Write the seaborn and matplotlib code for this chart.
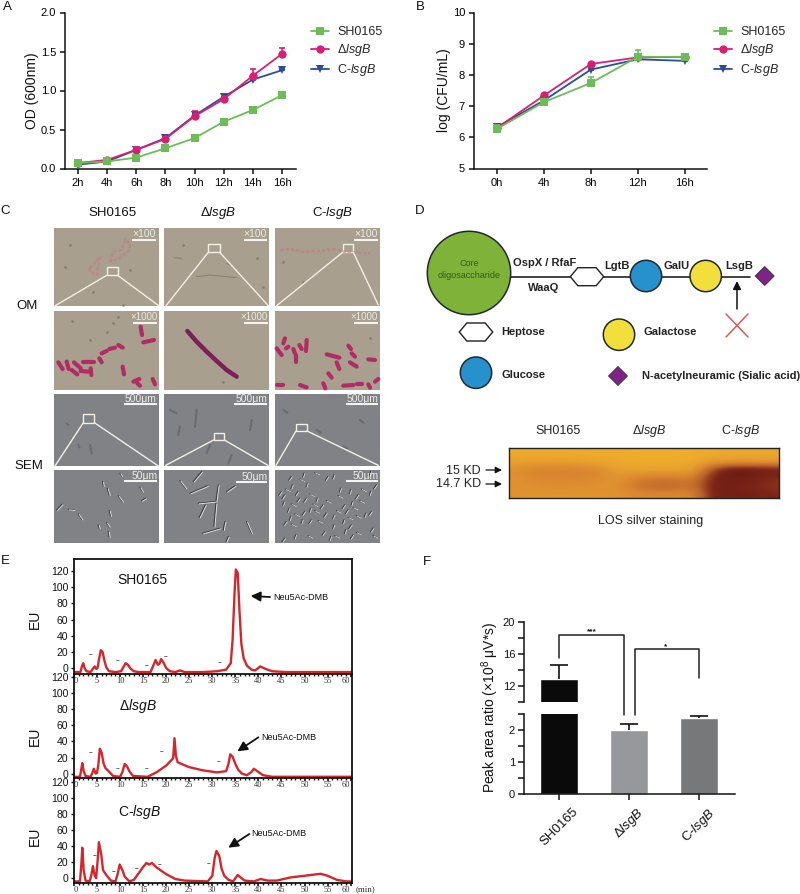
import matplotlib
matplotlib.use("Agg")
import matplotlib.pyplot as plt
import numpy as np
import pandas as pd
import seaborn as sns
from matplotlib.colors import LinearSegmentedColormap
from matplotlib.patches import Circle, Polygon, Rectangle

W, H = 800, 894

strains = ["SH0165", "dlsgB", "ClsgB"]
strain_labels = ["SH0165", r"Δ$\mathit{lsgB}$", r"C-$\mathit{lsgB}$"]
strain_colors = ["#6CBD57", "#D91F71", "#2B4C9B"]
strain_markers = ["s", "o", "v"]

# panel A
od_hours = ["2h", "4h", "6h", "8h", "10h", "12h", "14h", "16h"]
od_sh = [0.07, 0.09, 0.14, 0.26, 0.39, 0.60, 0.75, 0.94]
od_dl = [0.07, 0.11, 0.24, 0.38, 0.67, 0.89, 1.19, 1.47]
od_cl = [0.05, 0.09, 0.24, 0.39, 0.68, 0.92, 1.14, 1.26]
od_sh_err = [0.01, 0.01, 0.01, 0.01, 0.02, 0.02, 0.02, 0.02]
od_dl_err = [0.01, 0.02, 0.04, 0.03, 0.07, 0.03, 0.09, 0.08]
od_cl_err = [0.01, 0.01, 0.02, 0.02, 0.03, 0.03, 0.02, 0.01]

# panel B
cfu_hours = [0, 4, 8, 12, 16]
cfu_sh = [6.27, 7.13, 7.74, 8.58, 8.58]
cfu_dl = [6.30, 7.34, 8.35, 8.56, 8.58]
cfu_cl = [6.33, 7.18, 8.17, 8.50, 8.45]
cfu_sh_err = [0.12, 0.10, 0.20, 0.22, 0.04]
cfu_dl_err = [0.05, 0.05, 0.04, 0.08, 0.03]
cfu_cl_err = [0.05, 0.05, 0.04, 0.06, 0.03]

# panel E
hplc_sh_t = [0, 1.4, 1.7, 2, 2.3, 2.7, 3.6, 4.2, 4.5, 4.8, 5.1, 5.4, 5.8, 6.2, 6.6, 7, 7.6, 9, 10.2, 10.7, 11.2,
             11.7, 12.3, 13, 14, 16.6, 17.2, 17.7, 18.2, 18.5, 18.9, 19.4, 20, 20.8, 22, 23, 24, 28, 31, 33, 34,
             34.4, 34.8, 35.1, 35.5, 35.9, 36.3, 36.8, 37.5, 38.5, 39.3, 40.4, 41.5, 43, 46, 60.3]
hplc_sh_y = [-5, -5, 2, 6, 0, -4, -5, 0, 2, -1, 0, 10, 22, 20, 9, 1, -4, -5, -4, 1, 6,
             4, -1, -4, -5, -5, 3, 10, 4, 5, 11, 7, 0, -4, -5, -3, -5, -5, -4, -2, 6,
             35, 90, 122, 118, 70, 30, 12, 3, -2, -3, 2, -1, -4, -5, -5]
hplc_dl_t = [0, 1.3, 1.6, 1.8, 2.1, 2.5, 3.6, 4, 4.3, 4.7, 5, 5.3, 5.6, 6, 6.4, 6.8, 7.5, 8.5, 10, 10.5, 11, 11.5,
             12, 12.8, 16, 18, 20, 21, 21.5, 21.8, 22.1, 22.5, 25, 28, 31, 33, 33.5, 33.9, 34.4, 35, 35.6, 36.4, 37.5,
             38.5, 39, 40, 41, 43, 60.3]
hplc_dl_y = [-4, -4, 6, 13, 3, -3, -4, 1, 6, 0, 1, 12, 31, 26, 13, 7, 3, -3, -4, 2, 12, 9,
             3, -3, -4, 2, 10, 16, 19, 44, 22, 14, 8, 4, 1.5, 3, 12, 24, 21, 12, 5, 0, -2,
             2, 6, 2, -2, -4, -4]
hplc_cl_t = [0, 1.3, 1.6, 1.8, 2.1, 2.5, 3.4, 3.8, 4.1, 4.5, 4.8, 5.1, 5.4, 5.9, 6.3, 7, 8, 9, 9.5, 9.9, 10.5, 11, 12,
             13, 15, 15.7, 16.3, 16.9, 18, 20, 22, 24, 29, 30, 30.5, 30.9, 31.5, 32, 32.6, 33.5, 34.5, 35.5, 37, 39,
             40.5, 42, 44, 47, 50, 53.5, 55, 57, 59, 60.3]
hplc_cl_y = [-4, -4, 18, 38, 10, -3, -4, 5, 15, 3, 0, 20, 45, 30, 10, 4, -3, -4, 6, 17, 10, 2, -4,
             -2, 14, 19, 17, 19, 13, 5, -1, -3, -4, 3, 25, 34, 28, 12, 3, -2, -4, 4, -3, -4,
             -1, -3, -3, 1, 3, 5.5, 3, -2, -4, -4]
hplc_ticks = list(range(0, 61, 5))
eu_ticks = [0, 20, 40, 60, 80, 100, 120]

# panel F
peak_strains = ["SH0165", "dlsgB", "ClsgB"]
peak_values = [12.8, 2.0, 2.37]
peak_errors = [1.75, 0.18, 0.07]
peak_colors = ["#0A0A0A", "#96989C", "#76787B"]

# panel D gel intensity, lanes left to right, top to bottom
gel_rows = [
    [.08, .08, .08, .08, .08, .08, .06, .06, .06, .06, .10, .12, .12, .12],
    [.18, .18, .18, .15, .13, .10, .08, .08, .08, .10, .18, .18, .18, .18],
    [.32, .42, .42, .42, .38, .22, .15, .15, .15, .18, .70, .92, .92, .88],
    [.32, .40, .40, .40, .38, .27, .38, .45, .45, .40, .82, .88, .85, .78],
    [.30, .33, .33, .33, .32, .30, .50, .58, .58, .50, .85, .85, .82, .75],
    [.30, .30, .30, .30, .30, .30, .36, .38, .38, .36, .85, .85, .85, .80],
]

sns.set_theme(style="ticks")
plt.rcParams["font.family"] = ["Liberation Sans", "DejaVu Sans"]
plt.rcParams["mathtext.fontset"] = "custom"
plt.rcParams["mathtext.rm"] = "Liberation Sans"
plt.rcParams["mathtext.it"] = "Liberation Sans:italic"
plt.rcParams["mathtext.default"] = "regular"

fig = plt.figure(figsize=(W / 100, H / 100), dpi=100)


def px_axes(x0, y0, x1, y1, **kw):
    return fig.add_axes([x0 / W, 1 - y1 / H, (x1 - x0) / W, (y1 - y0) / H], **kw)


def growth_panel(box, x_vals, series, errs, ylabel, legend_xy):
    ax = px_axes(*box)
    frame = pd.DataFrame({
        "x": list(x_vals) * 3,
        "y": sum(series, []),
        "strain": sum([[s] * len(x_vals) for s in strains], []),
    })
    sns.lineplot(data=frame, x="x", y="y", hue="strain", style="strain", hue_order=strains, style_order=strains,
                 palette=dict(zip(strains, strain_colors)), markers=dict(zip(strains, strain_markers)),
                 dashes=False, errorbar=None, linewidth=1.3, markersize=6, markeredgewidth=0, ax=ax)
    # blue under pink under green, like the original
    for line, z in zip(ax.lines[:3], [5, 4, 3]):
        line.set_zorder(z)
    for vals, err, col, z in zip(series, errs, strain_colors, [5, 4, 3]):
        ax.errorbar(x_vals, vals, yerr=[np.zeros(len(err)), err], fmt="none", ecolor=col,
                    elinewidth=1.2, capsize=2.5, capthick=1.2, zorder=z)
    handles, _ = ax.get_legend_handles_labels()
    ax.legend(handles[-3:], strain_labels, loc="upper left", frameon=False, fontsize=9,
              bbox_to_anchor=(legend_xy[0] / W, 1 - legend_xy[1] / H), bbox_transform=fig.transFigure,
              borderpad=0, borderaxespad=0, handlelength=1.4, handletextpad=0.7, labelspacing=0.33)
    ax.set_xlabel("")
    ax.set_ylabel(ylabel, fontsize=10, color="#111111", labelpad=1)
    sns.despine(ax=ax)
    for side in ["left", "bottom"]:
        ax.spines[side].set_linewidth(1.1)
        ax.spines[side].set_color("#111111")
    ax.tick_params(labelsize=8, width=1.1, length=3.5, color="#111111", labelcolor="#000000", pad=3)
    return ax


# A
ax_a = growth_panel((65, 12.5, 296, 168.5), range(len(od_hours)), [od_sh, od_dl, od_cl],
                    [od_sh_err, od_dl_err, od_cl_err], "OD (600nm)", (311, 26))
ax_a.set_xlim(-0.45, 7.48)
ax_a.set_ylim(0, 2)
ax_a.set_xticks(range(len(od_hours)), od_hours)
ax_a.set_yticks([0, 0.5, 1, 1.5, 2], ["0.0", "0.5", "1.0", "1.5", "2.0"])

# B
ax_b = growth_panel((474, 12.5, 707, 168.5), cfu_hours, [cfu_sh, cfu_dl, cfu_cl],
                    [cfu_sh_err, cfu_dl_err, cfu_cl_err], "log (CFU/mL)", (714, 26))
ax_b.set_xlim(-1.96, 17.9)
ax_b.set_ylim(5, 10)
ax_b.set_xticks(cfu_hours, [f"{h}h" for h in cfu_hours])
ax_b.set_yticks([5, 6, 7, 8, 9, 10])


# E
def hplc_panel(box, t, y, ylim, top_spine):
    ax = px_axes(*box, facecolor="none")
    sns.lineplot(x=t, y=y, sort=False, estimator=None, color="#D5262C", linewidth=1.7, ax=ax)
    ax.set_xlim(0, 60.3)
    ax.set_ylim(*ylim)
    ax.set_xticks(hplc_ticks)
    labels = ax.set_xticklabels(hplc_ticks, family="Liberation Serif", fontsize=6, color="#333333")
    labels[0].set_ha("left")
    labels[-1].set_ha("right")
    ax.set_xticks(range(0, 61), minor=True)
    ax.set_yticks(eu_ticks)
    ax.tick_params(axis="x", which="major", length=2, width=1.2, pad=0.5, color="#111111")
    ax.tick_params(axis="x", which="minor", length=1.5, width=1.0, color="#111111")
    ax.tick_params(axis="y", which="major", length=2.5, width=1, pad=1.5, labelsize=7.5, color="#111111",
                   labelcolor="#111111")
    for spine in ax.spines.values():
        spine.set_linewidth(1.3)
        spine.set_color("#111111")
    ax.spines["top"].set_visible(top_spine)
    return ax


ax_e1 = hplc_panel((74, 559, 352, 674), hplc_sh_t, hplc_sh_y, (-7.4, 135), True)
ax_e2 = hplc_panel((74, 674, 352, 778), hplc_dl_t, hplc_dl_y, (-5.5, 124), False)
ax_e3 = hplc_panel((74, 778, 352, 883), hplc_cl_t, hplc_cl_y, (-6, 125), False)


# F
def peak_panel(box, ylim):
    ax = px_axes(*box, facecolor="none")
    frame = pd.DataFrame({"strain": peak_strains, "value": peak_values})
    sns.barplot(data=frame, x="strain", y="value", hue="strain", palette=dict(zip(peak_strains, peak_colors)),
                width=0.54, legend=False, errorbar=None, ax=ax)
    tops = np.array(peak_values) + np.array(peak_errors)
    ax.vlines(range(3), peak_values, tops, color="#111111", lw=1.2, zorder=5)
    ax.hlines(tops, np.arange(3) - 0.13, np.arange(3) + 0.13, color="#111111", lw=1.2, zorder=5)
    ax.set_xlim(-0.507, 2.51)
    ax.set_ylim(*ylim)
    ax.set_xlabel("")
    ax.set_ylabel("")
    sns.despine(ax=ax)
    ax.spines["left"].set_linewidth(1.1)
    ax.spines["left"].set_color("#111111")
    ax.tick_params(axis="y", width=1.1, length=4, labelsize=8, pad=2, color="#111111", labelcolor="#111111")
    return ax


ax_f_top = peak_panel((523.5, 622, 735, 701.7), (10, 20))
ax_f_top.spines["bottom"].set_visible(False)
ax_f_top.set_xticks([])
ax_f_top.set_yticks([10, 12, 14, 16, 18, 20], ["", "12", "", "16", "", "20"])

ax_f_low = peak_panel((523.5, 714, 735, 794.3), (0, 2.5))
ax_f_low.set_yticks([0, 0.5, 1, 1.5, 2, 2.5], ["0", "", "1", "", "2", ""])
ax_f_low.set_xticks(range(3), strain_labels, rotation=45, ha="center", fontsize=9.5, color="#111111")
ax_f_low.spines["bottom"].set_linewidth(1.1)
ax_f_low.spines["bottom"].set_color("#111111")
ax_f_low.tick_params(axis="x", width=1.1, length=4, pad=4, color="#111111")

# D gel
ax_gel = px_axes(508.7, 448.3, 778.7, 497.7)
gel_cmap = LinearSegmentedColormap.from_list(
    "gel", ["#F2B32A", "#E8A02E", "#D98530", "#B9622A", "#7E2518", "#5A1210"])
ax_gel.imshow(np.array(gel_rows), cmap=gel_cmap, vmin=0, vmax=1, aspect="auto", interpolation="bicubic")
ax_gel.set_xticks([])
ax_gel.set_yticks([])
for spine in ax_gel.spines.values():
    spine.set_linewidth(1)
    spine.set_color("#222222")

# everything else is placed in pixel coordinates on a transparent overlay
ov = fig.add_axes([0, 0, 1, 1], facecolor="none")
ov.set_xlim(0, W)
ov.set_ylim(H, 0)
ov.axis("off")


def label(x, y, s, size=9, ha="center", weight="normal", color="#111111", rot=0, **kw):
    ov.text(x, y, s, fontsize=size, ha=ha, va="center", fontweight=weight, color=color, rotation=rot, **kw)


def arrow(x0, y0, x1, y1, lw=1.0, head=6):
    ov.annotate("", xy=(x1, y1), xytext=(x0, y0),
                arrowprops=dict(arrowstyle=f"-|>,head_width={head * 0.04},head_length={head * 0.08}", lw=lw,
                                color="#111111", shrinkA=0, shrinkB=0))


for x, y, s in [(7, 7, "A"), (420, 7, "B"), (5, 211, "C"), (420, 211, "D"), (5, 561, "E"), (427, 562, "F")]:
    label(x, y, s, size=9.5)

# C photographs
z9 = lambda x, y: (50 + x / 3, 225 + y / 3)
z8 = lambda x, y: (50 + x / 3, 390 + y / 3)
col_edges = [(54, 159), (164, 269), (275, 380)]
row_edges = [(228, 306), (311, 390), (394, 466), (470, 543)]
om_bg = "#A89F8E"
sem_bg = "#808286"

for c, (x0, x1) in enumerate(col_edges):
    for r, (y0, y1) in enumerate(row_edges):
        ov.add_patch(Rectangle((x0, y0), x1 - x0, y1 - y0, color=om_bg if r < 2 else sem_bg, lw=0))

label(112, 213, "SH0165", size=9.5)
label(218, 213, strain_labels[1], size=9.5)
label(333, 213, strain_labels[2], size=9.5)
label(27, 306, "OM", size=9.5)
label(29, 466, "SEM", size=9.5)


def zoom_box(conv, box, left, right):
    bx0, by0, bx1, by1 = box
    p = [conv(bx0, by0), conv(bx1, by0), conv(bx1, by1), conv(bx0, by1)]
    ov.add_patch(Polygon(p, closed=True, fill=False, ec="#F4F0E6", lw=1))
    ov.plot(*zip(conv(bx0, by1), conv(*left)), color="#F4F0E6", lw=1)
    ov.plot(*zip(conv(bx1, by1), conv(*right)), color="#F4F0E6", lw=1)


def scale(conv, x0, x1, y, s, text_y, size=7.5):
    ov.plot(*zip(conv(x0, y), conv(x1, y)), color="#F5F5F0", lw=1.5, solid_capstyle="butt")
    tx, ty = conv(x1, text_y)
    ov.text(tx, ty, s, fontsize=size, ha="right", va="center", color="#ECECE6")


# smears at x100
om_smears = [
    [(118, 130), (130, 118), (150, 95), (140, 150), (120, 140), (118, 130)],
    [(180, 110), (190, 80), (215, 75), (225, 45), (240, 55), (238, 75), (210, 100), (180, 110)],
    [(690, 75), (720, 72), (760, 80), (810, 78), (850, 72), (880, 80), (960, 85)],
]
for smear in om_smears:
    ov.plot(*zip(*[z9(*p) for p in smear]), color="#BE7D84", lw=1.8, alpha=0.6, ls=(0, (1.5, 0.6)))
for seg in [[(440, 155), (480, 150), (560, 158)], [(372, 98), (395, 100)], [(530, 115), (540, 120)]]:
    ov.plot(*zip(*[z9(*p) for p in seg]), color="#7D6F66", lw=0.7, alpha=0.7)

om_specks = [(60, 60), (45, 125), (130, 200), (240, 135), (220, 240), (620, 100), (640, 185), (400, 60), (700, 110),
             (760, 170), (65, 288), (190, 295), (170, 320), (205, 275), (120, 345), (520, 470), (960, 340)]
ov.scatter(*zip(*[z9(*p) for p in om_specks]), s=4, color="#6F6A62", alpha=0.6, lw=0)

zoom_box(z9, (170, 126, 203, 151), (16, 242), (326, 242))
zoom_box(z9, (475, 57, 509, 82), (348, 242), (655, 242))
zoom_box(z9, (878, 57, 910, 82), (680, 242), (985, 240))
for x0, x1 in [(247, 318), (581, 651), (912, 984)]:
    scale(z9, x0, x1, 44, "×100", 27)
for x0, x1 in [(248, 322), (581, 653), (912, 984)]:
    scale(z9, x0, x1, 295, "×1000", 276, size=7)

om_rods = [
    (25, 412, 38, 432), (50, 410, 56, 432), (72, 412, 92, 430), (65, 435, 82, 448), (92, 438, 115, 440),
    (98, 412, 132, 412), (122, 430, 124, 450), (148, 400, 155, 412), (155, 385, 170, 378), (178, 372, 195, 368),
    (205, 360, 218, 368), (272, 305, 276, 330), (280, 352, 312, 345), (218, 425, 222, 448), (250, 470, 268, 462),
    (262, 475, 270, 482), (308, 462, 315, 478),
    (680, 370, 695, 390), (705, 340, 700, 355), (715, 365, 708, 370), (770, 345, 768, 378), (730, 372, 735, 385),
    (738, 390, 738, 410), (748, 360, 755, 372), (830, 388, 868, 398), (895, 362, 903, 372), (905, 385, 915, 395),
    (900, 412, 920, 425), (955, 403, 975, 405), (860, 412, 868, 432), (835, 445, 845, 458), (680, 480, 700, 480),
    (820, 475, 826, 490), (880, 482, 910, 480), (920, 478, 935, 478), (750, 480, 770, 487), (955, 478, 960, 488),
    (975, 470, 985, 462),
]
for x0, y0, x1, y1 in om_rods:
    ov.plot(*zip(z9(x0, y0), z9(x1, y1)), color="#B22C64", lw=3, solid_capstyle="round")
om_chain = [(412, 318), (440, 350), (470, 380), (500, 408), (530, 435), (560, 455)]
ov.plot(*zip(*[z9(*p) for p in om_chain]), color="#7C1F58", lw=3.2, solid_capstyle="round")

# SEM
sem_patches = [
    (440, 60, 435, 110), (390, 110, 385, 135), (605, 90, 600, 120), (480, 165, 470, 190), (545, 195, 535, 220),
    (360, 60, 380, 70), (120, 165, 125, 190), (50, 100, 55, 105), (85, 165, 88, 172),
    (700, 60, 712, 68), (800, 120, 812, 128), (880, 170, 892, 175), (930, 90, 940, 98),
]
for x0, y0, x1, y1 in sem_patches:
    ov.plot(*zip(z8(x0, y0), z8(x1, y1)), color="#55575B", lw=1.6, alpha=0.5)

zoom_box(z8, (100, 72, 133, 98), (15, 228), (325, 228))
zoom_box(z8, (491, 128, 523, 150), (347, 226), (654, 226))
zoom_box(z8, (738, 101, 771, 123), (678, 226), (985, 226))
for x0, x1 in [(222, 320), (553, 651), (888, 985)]:
    scale(z8, x0, x1, 43, "500μm", 28)
for x0, x1, y in [(222, 322, 272), (557, 652, 275), (888, 985, 272)]:
    scale(z8, x0, x1, y, "50μm", y - 15)


def sem_rod(x0, y0, x1, y1, lw=1.0):
    a, b = z8(x0, y0), z8(x1, y1)
    ov.plot([a[0], b[0]], [a[1], b[1]], color="#3A3C40", lw=lw, solid_capstyle="round")
    ov.plot([a[0] + 0.9, b[0] + 0.9], [a[1] + 0.5, b[1] + 0.5], color="#E0E0E0", lw=lw * 0.7, solid_capstyle="round")


sem_rods = [
    (20, 360, 36, 343), (85, 372, 96, 388), (158, 275, 160, 288), (172, 295, 178, 315), (205, 318, 218, 335),
    (210, 250, 215, 258), (270, 292, 278, 305), (275, 332, 287, 325), (178, 362, 182, 378), (145, 405, 148, 415),
    (170, 398, 178, 410), (175, 425, 178, 442), (55, 358, 72, 360),
    (390, 272, 408, 295), (430, 275, 455, 245), (420, 310, 472, 288), (505, 285, 498, 335), (498, 340, 492, 410),
    (448, 382, 466, 345), (445, 340, 495, 335), (458, 430, 510, 415), (525, 395, 520, 420), (530, 305, 555, 288),
    (535, 440, 528, 455), (590, 395, 605, 430),
]
for rod in sem_rods:
    sem_rod(*rod)

sem_cells = [
    (700, 320), (712, 300), (725, 290), (740, 310), (755, 270), (770, 285), (745, 330), (730, 345), (700, 340),
    (765, 330), (785, 315), (800, 330), (815, 350), (835, 335), (850, 260), (830, 265), (870, 320), (900, 305),
    (920, 320), (940, 300), (960, 310), (975, 290), (935, 335), (905, 340), (880, 350), (865, 365), (850, 380),
    (825, 375), (800, 365), (780, 360), (760, 370), (740, 375), (720, 385), (705, 400), (730, 405), (755, 395),
    (780, 395), (810, 395), (880, 395), (900, 410), (925, 380), (945, 375), (960, 370), (900, 385), (885, 425),
    (905, 440), (860, 440), (840, 445), (820, 430), (780, 440), (735, 440), (965, 420), (975, 440), (870, 300),
    (720, 265), (800, 250), (760, 255), (690, 310), (795, 345), (715, 360), (890, 365), (915, 355), (850, 410),
    (700, 450), (925, 430), (960, 250),
]
cell_dirs = [(4, -6), (6, 3), (-2, 6)]
for i, (x, y) in enumerate(sem_cells):
    dx, dy = cell_dirs[i % 3]
    sem_rod(x - dx, y - dy, x + dx, y + dy, lw=0.8)

# D schematic
ov.plot([510, 750], [276.5, 276.5], color="#222222", lw=1.2, zorder=2)


def hexagon(cx, cy, hw=16.7, hh=9):
    pts = [(cx - hw, cy), (cx - hw * 0.55, cy - hh), (cx + hw * 0.55, cy - hh), (cx + hw, cy),
           (cx + hw * 0.55, cy + hh), (cx - hw * 0.55, cy + hh)]
    ov.add_patch(Polygon(pts, closed=True, fc="white", ec="#222222", lw=1, zorder=3))


def diamond(cx, cy, r=9.5):
    ov.add_patch(Polygon([(cx - r, cy), (cx, cy - r), (cx + r, cy), (cx, cy + r)], closed=True, fc="#7F2387",
                         ec="#333333", lw=0.6, zorder=3))


def disc(cx, cy, r, col):
    ov.add_patch(Circle((cx, cy), r, fc=col, ec="#1E2A2A", lw=1.1, zorder=3))


disc(469, 273, 41.7, "#7FB239")
hexagon(587, 276.7)
disc(646, 276, 15.7, "#2791CE")
disc(705.7, 276, 15.7, "#F3DF3C")
diamond(764.7, 276)
hexagon(476, 332)
disc(619, 334.7, 15.7, "#F3DF3C")
disc(476, 372.7, 15.7, "#2791CE")
diamond(618, 376)

label(469, 269.5, "Core\noligosaccharide", size=6.5, color="#2F5B17", zorder=4, linespacing=1.35)
for x, y, s in [(544.7, 262.7, "OspX / RfaF"), (543.7, 287.7, "WaaQ"), (617, 266, "LgtB"), (677, 266, "GalU"),
                (738.7, 266, "LsgB")]:
    label(x, y, s, size=8, weight="bold", color="#222222", zorder=4)
for x, y, s in [(501.7, 332, "Heptose"), (644, 332, "Galactose"), (501.7, 374.7, "Glucose"),
                (642, 376, "N-acetylneuramic (Sialic acid)")]:
    label(x, y, s, size=8, ha="left", weight="bold", color="#222222")
arrow(737, 309, 737, 281, lw=1.1, head=5)
ov.plot([726, 748], [314, 337], color="#DB5A58", lw=1.1)
ov.plot([726, 748], [337, 314], color="#DB5A58", lw=1.1)

label(558, 431, "SH0165", size=9, color="#222222")
label(649, 431, strain_labels[1], size=9, color="#222222")
label(741, 431, strain_labels[2], size=9, color="#222222")
label(481, 471, "15 KD", size=9, ha="right", color="#222222")
label(481, 484, "14.7 KD", size=9, ha="right", color="#222222")
arrow(486, 470, 502, 470, lw=0.9, head=4)
arrow(486, 484, 502, 484, lw=0.9, head=4)
label(650.7, 521, "LOS silver staining", size=9, color="#222222")

# E annotations
z5 = lambda x, y: (x / 3, 550 + y / 3)
for (zx, zy), s in [((428, 90), "SH0165"), ((415, 467), strain_labels[1]), ((418, 785), strain_labels[2])]:
    label(*z5(zx, zy), s, size=10)
for zy in [207, 558, 860]:
    label(*z5(105, zy), "EU", size=10, rot=90)
for zx, zy, tx, ty, hx, hy in [(820, 141, 810, 141, 752, 138), (783, 562, 775, 562, 712, 604),
                               (755, 852, 748, 852, 685, 893)]:
    x, y = z5(zx, zy)
    label(x, y, "Neu5Ac-DMB", size=6.5, ha="left")
    arrow(*z5(tx, ty), *z5(hx, hy), lw=1.3, head=6)
for zx, zy in [(272, 315), (354, 332), (441, 347), (497, 321), (660, 338),
               (272, 608), (353, 655), (441, 655), (487, 606), (658, 636),
               (285, 918), (343, 966), (411, 955), (479, 943), (628, 941)]:
    label(*z5(zx, zy), "--", size=5, weight="bold", color="#444444")
label(*z5(1095, 1018), "(min)", size=6.5, family="Liberation Serif", color="#333333")

# F annotations
label(490, 707, r"Peak area ratio (×10$^{8}$ μV*s)", size=10, rot=90)
ov.plot([559, 559, 623.7, 623.7], [658, 635, 635, 715], color="#222222", lw=1.1)
ov.plot([634.7, 634.7, 699, 699], [715, 649, 649, 678], color="#222222", lw=1.1)
label(592, 632, "***", size=6, weight="bold")
label(665.7, 647, "*", size=6, weight="bold")

fig.savefig("out.png", dpi=100)
